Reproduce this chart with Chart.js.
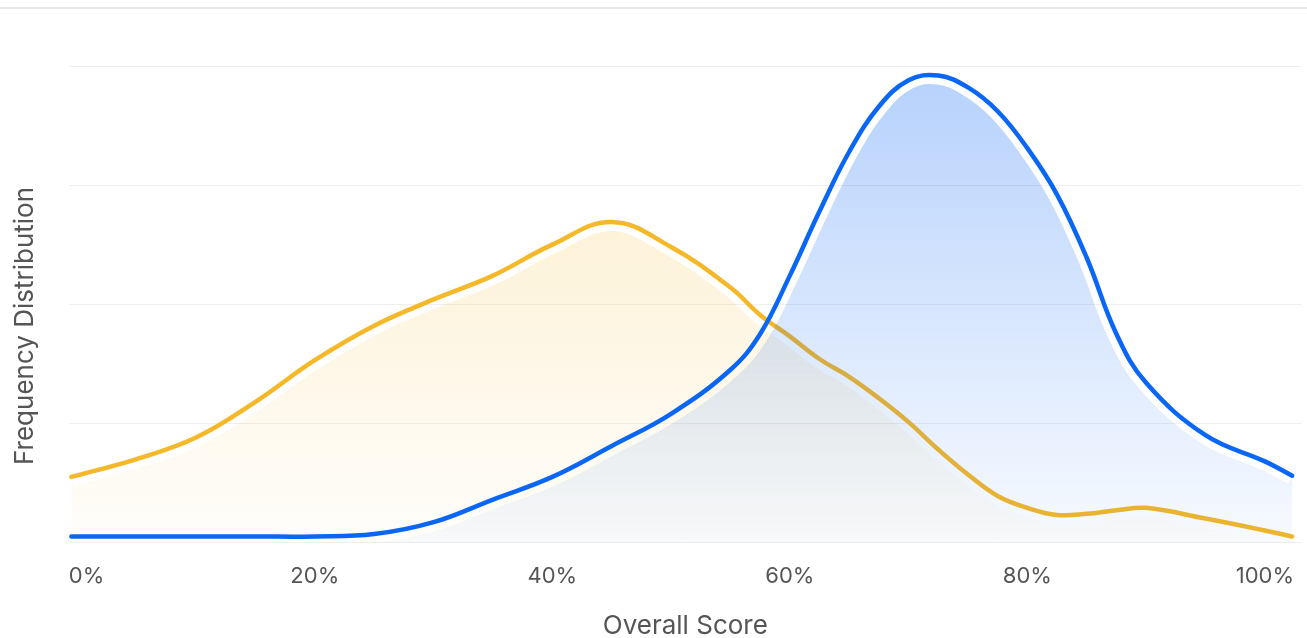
<!DOCTYPE html>
<html>
<head>
<meta charset="utf-8">
<script src="https://cdn.jsdelivr.net/npm/chart.js@4.4.1/dist/chart.umd.min.js"></script>
<style>
    html, body { margin: 0; padding: 0; background: #ffffff; }
    #wrap { position: relative; width: 1307px; height: 638px; }
    #topRule { position: absolute; left: 0; top: 7px; width: 1307px; height: 2px; background: #e8e8e8; }
    #myChart { position: absolute; left: 0; top: 0; }
</style>
</head>
<body>
<div id="wrap">
    <div id="topRule"></div>
    <canvas id="myChart" width="1307" height="638"></canvas>
</div>
<script>
const scores = [-0.5, 5, 10, 15, 20, 25, 30, 35, 40, 45, 50, 55, 57.5, 60, 62.5, 65, 67.5, 70, 72.5, 75, 77.5, 80, 82.5, 85, 87.5, 90, 95, 100, 102.3];
// Yellow series (lower scoring group)
const yellowValues = [0.55, 0.70, 0.88, 1.18, 1.53, 1.82, 2.04, 2.24, 2.50, 2.69, 2.48, 2.14, 1.91, 1.73, 1.54, 1.39, 1.21, 1.01, 0.78, 0.57, 0.39, 0.29, 0.23, 0.24, 0.27, 0.29, 0.20, 0.10, 0.05];
// Blue series (higher scoring group)
const blueValues = [0.05, 0.05, 0.05, 0.05, 0.05, 0.07, 0.17, 0.36, 0.55, 0.81, 1.08, 1.45, 1.75, 2.24, 2.78, 3.28, 3.66, 3.88, 3.92, 3.82, 3.62, 3.31, 2.92, 2.39, 1.75, 1.34, 0.90, 0.68, 0.56];
const xTicks = [0, 20, 40, 60, 80, 100];

const fontFamily = "Inter, 'Noto Sans', sans-serif";
const textColor = '#555555';

function toPoints(values) {
    return values.map((v, i) => ({ x: scores[i], y: v }));
}

// Draws the gradient area under a line, with a white gap cut out just below the stroke
const insetFill = {
    id: 'insetFill',
    beforeDatasetDraw(chart, args) {
        const ds = chart.data.datasets[args.index];
        if (!ds.fillTop) return;
        const line = args.meta.dataset;
        const pts = args.meta.data;
        const area = chart.chartArea;
        const bottom = chart.scales.y.getPixelForValue(0);
        line.updateControlPoints(area, 'x');

        const off = document.createElement('canvas');
        off.width = chart.width;
        off.height = chart.height;
        const o = off.getContext('2d');
        o.beginPath();
        line.path(o);
        o.lineTo(pts[pts.length - 1].x, bottom);
        o.lineTo(pts[0].x, bottom);
        o.closePath();
        const g = o.createLinearGradient(0, area.top, 0, bottom);
        g.addColorStop(0, ds.fillTop);
        g.addColorStop(1, ds.fillBottom);
        o.fillStyle = g;
        o.fill();
        // cut the white band under the stroke
        o.globalCompositeOperation = 'destination-out';
        o.beginPath();
        line.path(o);
        o.lineWidth = 18;
        o.lineJoin = 'round';
        o.strokeStyle = '#000';
        o.stroke();
        chart.ctx.drawImage(off, 0, 0, chart.width, chart.height);
    }
};

// Y axis title, placed where the reference has it
const yTitle = {
    id: 'yTitle',
    afterDraw(chart) {
        const ctx = chart.ctx;
        ctx.save();
        ctx.translate(25, 326);
        ctx.rotate(-Math.PI / 2);
        ctx.font = "26px " + fontFamily;
        ctx.fillStyle = textColor;
        ctx.textAlign = 'center';
        ctx.textBaseline = 'middle';
        ctx.fillText('Frequency Distribution', 0, 0);
        ctx.restore();
    }
};

window.onload = function() {
    const ctx = document.getElementById("myChart");
    new Chart(ctx, {
        type: 'line',
        data: {
            datasets: [
                {
                    label: 'Yellow',
                    data: toPoints(yellowValues),
                    borderColor: '#F5B829',
                    borderWidth: 4.5,
                    fill: false,
                    fillTop: 'rgba(246, 185, 38, 0.26)',
                    fillBottom: 'rgba(246, 185, 38, 0.02)',
                    pointRadius: 0,
                    tension: 0.4,
                    borderCapStyle: 'round',
                    order: 2
                },
                {
                    label: 'Blue',
                    data: toPoints(blueValues),
                    borderColor: '#0A66F5',
                    borderWidth: 4.5,
                    fill: false,
                    fillTop: 'rgba(10, 102, 245, 0.30)',
                    fillBottom: 'rgba(10, 102, 245, 0.03)',
                    pointRadius: 0,
                    tension: 0.4,
                    borderCapStyle: 'round',
                    order: 1
                }
            ]
        },
        options: {
            responsive: false,
            animation: false,
            layout: { padding: { left: 69, top: 66, right: 0, bottom: 0 } },
            plugins: {
                legend: { display: false },
                tooltip: { enabled: false }
            },
            scales: {
                x: {
                    type: 'linear',
                    min: -0.7,
                    max: 103.1,
                    afterBuildTicks: (scale) => {
                        scale.ticks = xTicks.map(v => ({ value: v }));
                    },
                    grid: { display: false },
                    border: { display: false },
                    ticks: {
                        color: textColor,
                        font: { family: fontFamily, size: 22 },
                        padding: 13,
                        maxRotation: 0,
                        callback: (v) => (v === 0 ? '   ' : '') + v + '%'
                    },
                    title: {
                        display: true,
                        text: 'Overall Score',
                        color: textColor,
                        font: { family: fontFamily, size: 26 },
                        padding: { top: 8, bottom: -4 }
                    }
                },
                y: {
                    min: 0,
                    max: 4,
                    ticks: { display: false, stepSize: 1 },
                    grid: { color: '#efefef', lineWidth: 1, drawTicks: false },
                    border: { display: false }
                }
            }
        },
        plugins: [insetFill, yTitle]
    });
};
</script>
</body>
</html>
